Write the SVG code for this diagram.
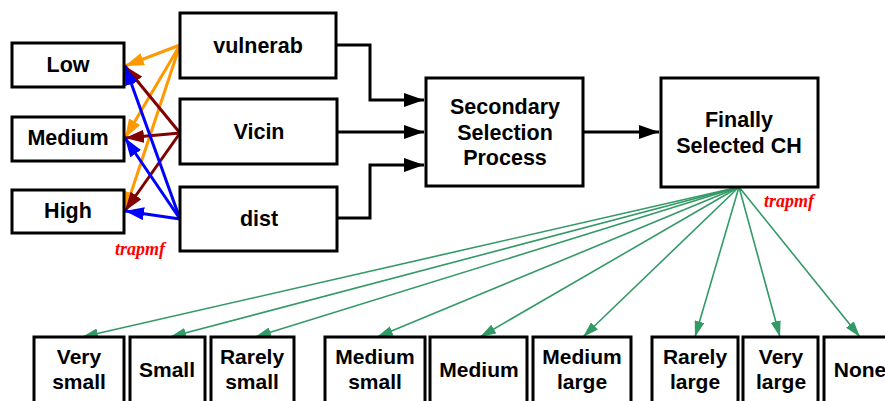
<svg xmlns="http://www.w3.org/2000/svg" width="885" height="401" viewBox="0 0 885 401">
<style>
.box{fill:#fff;stroke:#000;stroke-width:3}
.t{font-family:"Liberation Sans",Arial,sans-serif;font-weight:bold;font-size:21.5px;fill:#000;text-anchor:middle}
.bt{font-family:"Liberation Sans",Arial,sans-serif;font-weight:bold;font-size:21px;fill:#000;text-anchor:middle}
.tr{font-family:"Liberation Serif","Times New Roman",serif;font-weight:bold;font-style:italic;font-size:18px;fill:#ff0000}
.blk{fill:none;stroke:#000;stroke-width:3}
.or{stroke:#ff9900;stroke-width:3}
.dr{stroke:#800000;stroke-width:3}
.bl{stroke:#0000ff;stroke-width:3}
.gr{stroke:#339966;stroke-width:1.6}
</style>
<defs>
<marker id="ab" markerUnits="userSpaceOnUse" markerWidth="20" markerHeight="14" refX="20" refY="7" orient="auto"><path d="M0,0 L20,7 L0,14 z" fill="#000"/></marker>
<marker id="ao" markerUnits="userSpaceOnUse" markerWidth="19" markerHeight="13" refX="19" refY="6.5" orient="auto"><path d="M0,0 L19,6.5 L0,13 z" fill="#ff9900"/></marker>
<marker id="ad" markerUnits="userSpaceOnUse" markerWidth="19" markerHeight="13" refX="19" refY="6.5" orient="auto"><path d="M0,0 L19,6.5 L0,13 z" fill="#800000"/></marker>
<marker id="abl" markerUnits="userSpaceOnUse" markerWidth="19" markerHeight="13" refX="19" refY="6.5" orient="auto"><path d="M0,0 L19,6.5 L0,13 z" fill="#0000ff"/></marker>
<marker id="ag" markerUnits="userSpaceOnUse" markerWidth="16" markerHeight="10" refX="16" refY="5" orient="auto"><path d="M0,0 L16,5 L0,10 z" fill="#339966"/></marker>
</defs>

<g id="connectors">
<path class="blk" d="M336,45 H370 V100 H424" marker-end="url(#ab)"/>
<path class="blk" d="M337,132 H424" marker-end="url(#ab)"/>
<path class="blk" d="M337,218 H370 V165 H424" marker-end="url(#ab)"/>
<path class="blk" d="M583,132 H659" marker-end="url(#ab)"/>

<line class="or" x1="180" y1="45" x2="125" y2="66" marker-end="url(#ao)"/>
<line class="or" x1="180" y1="45" x2="125" y2="138" marker-end="url(#ao)"/>
<line class="or" x1="180" y1="45" x2="125" y2="211" marker-end="url(#ao)"/>
<line class="dr" x1="180" y1="133" x2="125" y2="66" marker-end="url(#ad)"/>
<line class="dr" x1="180" y1="133" x2="125" y2="138" marker-end="url(#ad)"/>
<line class="dr" x1="180" y1="133" x2="125" y2="211" marker-end="url(#ad)"/>
<line class="bl" x1="180" y1="219" x2="125" y2="66" marker-end="url(#abl)"/>
<line class="bl" x1="180" y1="219" x2="125" y2="138" marker-end="url(#abl)"/>
<line class="bl" x1="180" y1="219" x2="125" y2="211" marker-end="url(#abl)"/>

<line class="gr" x1="739" y1="187" x2="82" y2="337" marker-end="url(#ag)"/>
<line class="gr" x1="739" y1="187" x2="170" y2="337" marker-end="url(#ag)"/>
<line class="gr" x1="739" y1="187" x2="255" y2="337" marker-end="url(#ag)"/>
<line class="gr" x1="739" y1="187" x2="377" y2="337" marker-end="url(#ag)"/>
<line class="gr" x1="739" y1="187" x2="480" y2="337" marker-end="url(#ag)"/>
<line class="gr" x1="739" y1="187" x2="583" y2="337" marker-end="url(#ag)"/>
<line class="gr" x1="739" y1="187" x2="695" y2="337" marker-end="url(#ag)"/>
<line class="gr" x1="739" y1="187" x2="780" y2="337" marker-end="url(#ag)"/>
<line class="gr" x1="739" y1="187" x2="860" y2="337" marker-end="url(#ag)"/>
</g>

<g id="low"><rect class="box" x="12" y="43" width="112" height="44"/><text class="t" x="68" y="72">Low</text></g>
<g id="medium-in"><rect class="box" x="12" y="117" width="112" height="44"/><text class="t" x="68" y="145">Medium</text></g>
<g id="high"><rect class="box" x="12" y="190" width="112" height="43"/><text class="t" x="68" y="218">High</text></g>

<g id="vulnerab"><rect class="box" x="180" y="13" width="156" height="65"/><text class="t" x="258" y="53">vulnerab</text></g>
<g id="vicin"><rect class="box" x="180" y="99" width="157" height="65"/><text class="t" x="259" y="139">Vicin</text></g>
<g id="dist"><rect class="box" x="180" y="187" width="157" height="64"/><text class="t" x="259" y="226">dist</text></g>

<g id="secondary"><rect class="box" x="426" y="78" width="157" height="108"/>
<text class="t" x="505" y="114">Secondary</text><text class="t" x="505" y="140">Selection</text><text class="t" x="505" y="165">Process</text></g>
<g id="finally"><rect class="box" x="661" y="78" width="157" height="109"/>
<text class="t" x="739" y="127">Finally</text><text class="t" x="739" y="153">Selected CH</text></g>

<text class="tr" x="115" y="255">trapmf</text>
<text class="tr" x="764" y="207">trapmf</text>

<g id="very-small"><rect class="box" x="34" y="337" width="90" height="80"/><text class="bt" x="79" y="364">Very</text><text class="bt" x="79" y="389">small</text></g>
<g id="small"><rect class="box" x="130" y="337" width="75" height="80"/><text class="bt" x="167" y="377">Small</text></g>
<g id="rarely-small"><rect class="box" x="211" y="337" width="83" height="80"/><text class="bt" x="252" y="364">Rarely</text><text class="bt" x="252" y="389">small</text></g>
<g id="medium-small"><rect class="box" x="325" y="337" width="100" height="80"/><text class="bt" x="375" y="364">Medium</text><text class="bt" x="375" y="389">small</text></g>
<g id="medium-out"><rect class="box" x="430" y="337" width="97" height="80"/><text class="bt" x="479" y="377">Medium</text></g>
<g id="medium-large"><rect class="box" x="533" y="337" width="98" height="80"/><text class="bt" x="582" y="364">Medium</text><text class="bt" x="582" y="389">large</text></g>
<g id="rarely-large"><rect class="box" x="652" y="337" width="86" height="80"/><text class="bt" x="695" y="364">Rarely</text><text class="bt" x="695" y="389">large</text></g>
<g id="very-large"><rect class="box" x="743" y="337" width="75" height="80"/><text class="bt" x="781" y="364">Very</text><text class="bt" x="781" y="389">large</text></g>
<g id="none"><rect class="box" x="824" y="337" width="80" height="80"/><text class="bt" x="860" y="377">None</text></g>
</svg>
